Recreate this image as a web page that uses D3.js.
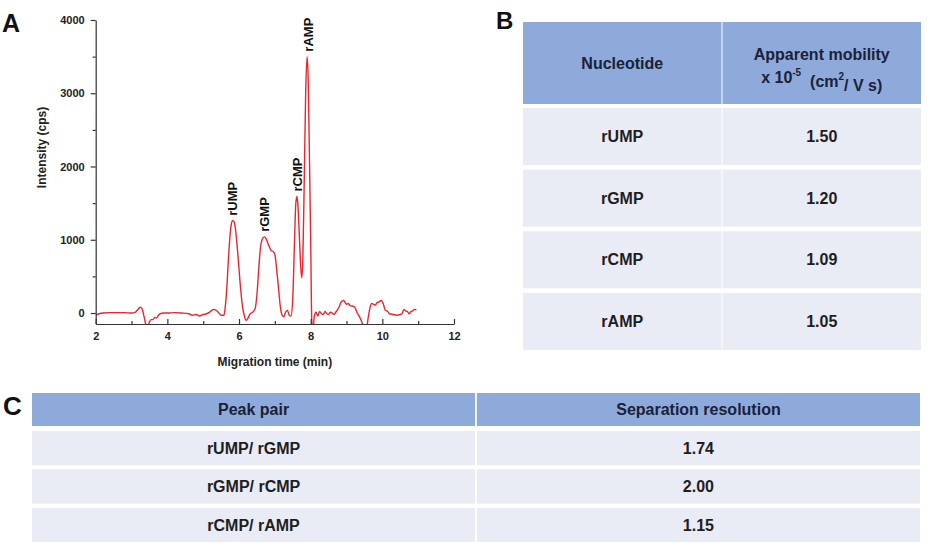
<!DOCTYPE html>
<html>
<head>
<meta charset="utf-8">
<script src="https://cdn.jsdelivr.net/npm/d3@7"></script>
<style>
  body { margin: 0; background: #fff; }
  svg { display: block; font-family: "Liberation Sans", Arial, sans-serif; }
  .tick text { font-weight: bold; font-size: 11px; fill: #222; }
  .axis path, .axis line { stroke: #333; stroke-width: 1.2; }
</style>
</head>
<body>
<div id="fig"></div>
<script>

// electropherogram (panel A)
var times = [2.00, 2.10, 2.20, 2.40, 2.60, 2.80, 3.00, 3.10, 3.20, 3.25, 3.30, 3.35, 3.40, 3.45, 3.50, 3.55,
    3.60, 3.65, 3.70, 3.75, 3.80, 3.90, 4.00, 4.20, 4.40, 4.60, 4.70, 4.80, 4.90, 5.00, 5.10, 5.20, 5.30,
    5.40, 5.50, 5.58, 5.62, 5.66, 5.70, 5.74, 5.78, 5.82, 5.86, 5.90, 5.95, 6.00, 6.05, 6.10, 6.15, 6.20,
    6.25, 6.30, 6.40, 6.45, 6.50, 6.55, 6.60, 6.65, 6.70, 6.75, 6.80, 6.85, 6.90, 6.95, 7.00, 7.05, 7.10,
    7.15, 7.20, 7.25, 7.30, 7.35, 7.40, 7.45, 7.50, 7.55, 7.58, 7.61, 7.64, 7.68, 7.72, 7.75, 7.78, 7.82,
    7.86, 7.90, 7.93, 7.96, 8.00, 8.03, 8.06, 8.10, 8.15, 8.20, 8.25, 8.30, 8.35, 8.40, 8.45, 8.50, 8.55,
    8.60, 8.65, 8.70, 8.80, 8.85, 8.92, 9.00, 9.05, 9.10, 9.20, 9.25, 9.30, 9.35, 9.40, 9.45, 9.50, 9.55,
    9.60, 9.65, 9.70, 9.75, 9.80, 9.85, 9.90, 9.97, 10.03, 10.08, 10.15, 10.20, 10.30, 10.40, 10.50, 10.55,
    10.60, 10.65, 10.70, 10.75, 10.80, 10.85, 10.90, 10.95];
var intensity = [-30, -10, 0, 5, 5, 5, 0, 10, 60, 80, 50, -50, -160, -200, -120, -90,
    -90, -60, -70, -30, -10, 0, 0, 5, 0, -10, -30, -20, -40, -20, -10, 20, 50,
    20, -30, -30, 100, 350, 700, 1000, 1200, 1260, 1250, 1150, 900, 600, 300, 80, -40, -100,
    -70, -20, 20, 60, 250, 600, 900, 1010, 1040, 1020, 960, 900, 850, 840, 800, 600, 350,
    100, -30, -50, 10, 40, -30, -40, 200, 1000, 1450, 1590, 1500, 1100, 650, 480, 700, 1800,
    3000, 3500, 3200, 2300, 1000, -100, -250, -50, 10, -40, 20, -10, -20, 20, -10, -20, 10,
    0, -20, 10, 90, 150, 170, 120, 130, 100, 90, 60, 0, -40, -90, -160, -260, -250,
    -80, 60, 130, 120, 110, 140, 150, 170, 120, 40, 20, -10, -20, -30, -20, -10,
    50, 30, 20, -10, 20, 30, 50, 40];

var peakNames = ["rUMP", "rGMP", "rCMP", "rAMP"];
var peakTimes = [5.83, 6.72, 7.64, 7.93];
var peakHeights = [1260, 1040, 1590, 3500];

var xTicks = [2, 4, 6, 8, 10, 12];
var xMinorTicks = [3, 5, 7, 9, 11];
var yTicks = [0, 1000, 2000, 3000, 4000];
var yMinorTicks = [500, 1500, 2500, 3500];

// table B
var nucleotides = ["rUMP", "rGMP", "rCMP", "rAMP"];
var mobility = ["1.50", "1.20", "1.09", "1.05"];

// table C
var peakPairs = ["rUMP/ rGMP", "rGMP/ rCMP", "rCMP/ rAMP"];
var resolution = ["1.74", "2.00", "1.15"];

var width = 937, height = 550;
var headFill = "#8eaadb", rowFill = "#e9ebf5", headText = "#1b2138", bodyText = "#1e1e1e";

var svg = d3.select("#fig").append("svg")
    .attr("width", width)
    .attr("height", height);

svg.append("rect").attr("width", width).attr("height", height).attr("fill", "#fff");

//panel letters
function letter(t, x, y, size) {
    svg.append("text").attr("x", x).attr("y", y)
        .attr("font-size", size).attr("font-weight", "bold").attr("fill", "#111")
        .text(t);
}
letter("A", 2, 32, 25);
letter("B", 496, 29, 24);
letter("C", 3, 415, 26);

// ---------- panel A ----------
var xScale = d3.scaleLinear().domain([2, 12]).range([95.7, 454]);
var yScale = d3.scaleLinear().domain([-150, 4000]).range([324, 20]);

svg.append("defs").append("clipPath").attr("id", "plotclip")
    .append("rect")
    .attr("x", xScale(2)).attr("y", yScale(4000))
    .attr("width", xScale(12) - xScale(2))
    .attr("height", yScale(-150) - yScale(4000));

var series = times.map(function(t, i) { return [t, intensity[i]]; });

var line = d3.line()
    .x(function(d) { return xScale(d[0]); })
    .y(function(d) { return yScale(d[1]); })
    .curve(d3.curveMonotoneX);

svg.append("path")
    .datum(series)
    .attr("clip-path", "url(#plotclip)")
    .attr("fill", "none")
    .attr("stroke", "#e8262e")
    .attr("stroke-width", 1.4)
    .attr("d", line);

// x axis, ticks pointing inward
svg.append("g").attr("class", "axis")
    .attr("transform", "translate(0," + yScale(-150) + ")")
    .call(d3.axisBottom(xScale).tickValues(xTicks).tickSizeInner(-5).tickSizeOuter(0).tickPadding(8));
svg.append("g").attr("class", "axis")
    .attr("transform", "translate(0," + yScale(-150) + ")")
    .call(d3.axisBottom(xScale).tickValues(xMinorTicks).tickSizeInner(-3).tickSizeOuter(0).tickFormat(""))
    .select(".domain").remove();

// y axis, ticks pointing outward
svg.append("g").attr("class", "axis")
    .attr("transform", "translate(" + xScale(2) + ",0)")
    .call(d3.axisLeft(yScale).tickValues(yTicks).tickSize(5).tickSizeOuter(0).tickPadding(6).tickFormat(d3.format("d")));
svg.append("g").attr("class", "axis")
    .attr("transform", "translate(" + xScale(2) + ",0)")
    .call(d3.axisLeft(yScale).tickValues(yMinorTicks).tickSize(3).tickFormat(""))
    .select(".domain").remove();

svg.append("text")
    .attr("x", (xScale(2) + xScale(12)) / 2)
    .attr("y", 366)
    .attr("text-anchor", "middle")
    .attr("font-size", 12).attr("font-weight", "bold").attr("fill", "#222")
    .text("Migration time (min)");

svg.append("text")
    .attr("transform", "translate(46," + yScale(2260) + ") rotate(-90)")
    .attr("text-anchor", "middle")
    .attr("font-size", 12).attr("font-weight", "bold").attr("fill", "#222")
    .text("Intensity (cps)");

// peak labels, rotated
svg.selectAll(".peaklabel")
    .data(peakNames)
    .enter()
    .append("text")
    .attr("class", "peaklabel")
    .attr("transform", function(d, i) {
        return "translate(" + xScale(peakTimes[i]) + "," + (yScale(peakHeights[i]) - 5) + ") rotate(-90)";
    })
    .attr("dy", "0.35em")
    .attr("font-size", 13).attr("font-weight", "bold").attr("fill", "#111")
    .text(function(d) { return d; });

// ---------- panel B ----------
var bCols = d3.scaleBand().domain([0, 1]).range([523, 921]).paddingInner(0.005);
var bRows = d3.scaleBand().domain(nucleotides).range([108, 350]).paddingInner(0.075);

var bHeadTop = 22, bHeadBottom = 104;
[0, 1].forEach(function(c) {
    svg.append("rect")
        .attr("x", bCols(c)).attr("y", bHeadTop)
        .attr("width", bCols.bandwidth()).attr("height", bHeadBottom - bHeadTop)
        .attr("fill", headFill);
});

svg.append("text")
    .attr("x", bCols(0) + bCols.bandwidth() / 2).attr("y", (bHeadTop + bHeadBottom) / 2)
    .attr("dy", "0.35em").attr("text-anchor", "middle")
    .attr("font-size", 16).attr("font-weight", "bold").attr("fill", headText)
    .text("Nucleotide");

var cx2 = bCols(1) + bCols.bandwidth() / 2;
svg.append("text")
    .attr("x", cx2).attr("y", 54).attr("dy", "0.35em").attr("text-anchor", "middle")
    .attr("font-size", 16).attr("font-weight", "bold").attr("fill", headText)
    .text("Apparent mobility");

var unit = svg.append("text")
    .attr("x", cx2).attr("y", 77).attr("dy", "0.35em").attr("text-anchor", "middle")
    .attr("font-size", 16).attr("font-weight", "bold").attr("fill", headText);
unit.append("tspan").text("x 10");
unit.append("tspan").attr("font-size", 10).attr("dy", "-0.7em").text("-5");
unit.append("tspan").attr("dy", "0.7em").text("\u00a0 (cm");
unit.append("tspan").attr("font-size", 10).attr("dy", "-0.7em").text("2");
unit.append("tspan").attr("dy", "0.7em").text("/ V s)");

var bRowG = svg.selectAll(".brow")
    .data(nucleotides)
    .enter()
    .append("g")
    .attr("class", "brow");

[0, 1].forEach(function(c) {
    bRowG.append("rect")
        .attr("x", bCols(c)).attr("y", function(d) { return bRows(d); })
        .attr("width", bCols.bandwidth()).attr("height", bRows.bandwidth())
        .attr("fill", rowFill);
    bRowG.append("text")
        .attr("x", bCols(c) + bCols.bandwidth() / 2)
        .attr("y", function(d) { return bRows(d) + bRows.bandwidth() / 2; })
        .attr("dy", "0.35em").attr("text-anchor", "middle")
        .attr("font-size", 16).attr("font-weight", "bold").attr("fill", bodyText)
        .text(function(d, i) { return c == 0 ? d : mobility[i]; });
});

// ---------- panel C ----------
var cCols = d3.scaleBand().domain([0, 1]).range([32, 920]).paddingInner(0.004);
var cRows = d3.scaleBand().domain(peakPairs).range([431, 542]).paddingInner(0.11);
var cHeadTop = 393, cHeadBottom = 426;
var cHeaders = ["Peak pair", "Separation resolution"];

[0, 1].forEach(function(c) {
    svg.append("rect")
        .attr("x", cCols(c)).attr("y", cHeadTop)
        .attr("width", cCols.bandwidth()).attr("height", cHeadBottom - cHeadTop)
        .attr("fill", headFill);
    svg.append("text")
        .attr("x", cCols(c) + cCols.bandwidth() / 2).attr("y", (cHeadTop + cHeadBottom) / 2)
        .attr("dy", "0.35em").attr("text-anchor", "middle")
        .attr("font-size", 16).attr("font-weight", "bold").attr("fill", headText)
        .text(cHeaders[c]);
});

var cRowG = svg.selectAll(".crow")
    .data(peakPairs)
    .enter()
    .append("g")
    .attr("class", "crow");

[0, 1].forEach(function(c) {
    cRowG.append("rect")
        .attr("x", cCols(c)).attr("y", function(d) { return cRows(d); })
        .attr("width", cCols.bandwidth()).attr("height", cRows.bandwidth())
        .attr("fill", rowFill);
    cRowG.append("text")
        .attr("x", cCols(c) + cCols.bandwidth() / 2)
        .attr("y", function(d) { return cRows(d) + cRows.bandwidth() / 2; })
        .attr("dy", "0.35em").attr("text-anchor", "middle")
        .attr("font-size", 16).attr("font-weight", "bold").attr("fill", bodyText)
        .text(function(d, i) { return c == 0 ? d : resolution[i]; });
});

</script>
</body>
</html>
